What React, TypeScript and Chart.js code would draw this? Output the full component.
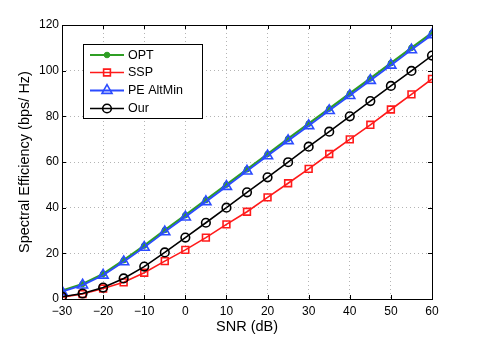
import React, { useEffect, useRef } from "react";
import { Chart, registerables } from "chart.js";

Chart.register(...registerables);

const snr = [-30, -25, -20, -15, -10, -5, 0, 5, 10, 15, 20, 25, 30, 35, 40, 45, 50, 55, 60];
const optValues = [3.6, 6.6, 11.0, 17.0, 23.4, 30.2, 36.7, 43.4, 50.1, 56.8, 63.5, 70.2, 76.8, 83.4, 90.0, 96.6, 103.3, 110.0, 116.5];
const sspValues = [0.8, 2.2, 4.6, 7.3, 11.5, 16.6, 21.5, 26.9, 32.7, 38.2, 44.5, 50.7, 57.0, 63.5, 69.9, 76.3, 83.0, 89.6, 96.4];
const peValues = [3.2, 6.1, 10.4, 16.3, 22.6, 29.4, 35.9, 42.6, 49.3, 56.0, 62.7, 69.3, 75.9, 82.5, 89.1, 95.7, 102.4, 109.1, 115.7];
const ourValues = [1.0, 2.4, 5.0, 9.0, 14.2, 20.4, 26.9, 33.4, 40.0, 46.7, 53.3, 59.9, 66.7, 73.3, 80.0, 86.7, 93.3, 99.9, 106.6];
const seriesNames = ["OPT", "SSP", "PE AltMin", "Our"];
const xTitle = "SNR (dB)";
const yTitle = "Spectral Efficiency (bps/ Hz)";

const FONT = "'Liberation Sans', Arial, Helvetica, sans-serif";
const GREEN = "#2f9e24";
const RED = "#ff1a1a";
const BLUE = "#2b4bff";
const BLACK = "#000000";

const toPts = (vals: number[]) => vals.map((v, i) => ({ x: snr[i], y: v }));

function drawMarker(ctx: CanvasRenderingContext2D, style: string, x: number, y: number, r: number) {
  ctx.beginPath();
  if (style === "circle") {
    ctx.arc(x, y, r, 0, Math.PI * 2);
  } else if (style === "rect") {
    const s = Math.SQRT1_2 * r;
    ctx.rect(x - s, y - s, 2 * s, 2 * s);
  } else if (style === "triangle") {
    ctx.moveTo(x, y - r);
    ctx.lineTo(x + r * Math.sin(Math.PI / 3), y + r * 0.5);
    ctx.lineTo(x - r * Math.sin(Math.PI / 3), y + r * 0.5);
    ctx.closePath();
  }
  ctx.fill();
  ctx.stroke();
}

const framePlugin = {
  id: "frame",
  afterDraw(chart: any) {
    const { ctx, chartArea } = chart;
    const { left, right, top, bottom } = chartArea;
    const xs = chart.scales.x;
    const ys = chart.scales.y;
    ctx.save();
    ctx.strokeStyle = "#000";
    ctx.lineWidth = 1;
    ctx.strokeRect(Math.round(left) + 0.5, Math.round(top) + 0.5, Math.round(right - left), Math.round(bottom - top));
    const tl = 4;
    ctx.beginPath();
    xs.ticks.forEach((t: any) => {
      const px = Math.round(xs.getPixelForValue(t.value)) + 0.5;
      ctx.moveTo(px, bottom);
      ctx.lineTo(px, bottom - tl);
      ctx.moveTo(px, top);
      ctx.lineTo(px, top + tl);
    });
    ys.ticks.forEach((t: any) => {
      const py = Math.round(ys.getPixelForValue(t.value)) + 0.5;
      ctx.moveTo(left, py);
      ctx.lineTo(left + tl, py);
      ctx.moveTo(right, py);
      ctx.lineTo(right - tl, py);
    });
    ctx.stroke();

    // legend
    const bx = 83.5, by = 44.5, bw = 119, bh = 74;
    ctx.fillStyle = "#fff";
    ctx.fillRect(bx, by, bw, bh);
    ctx.strokeStyle = "#000";
    ctx.strokeRect(bx, by, bw, bh);
    const rows = [55, 72.5, 90.5, 108.5];
    chart.data.datasets.forEach((ds: any, i: number) => {
      const y = rows[i];
      ctx.strokeStyle = ds.borderColor;
      ctx.lineWidth = ds.borderWidth;
      ctx.beginPath();
      ctx.moveTo(90, y);
      ctx.lineTo(124, y);
      ctx.stroke();
      ctx.lineWidth = ds.pointBorderWidth;
      ctx.fillStyle = ds.pointBackgroundColor;
      ctx.strokeStyle = ds.pointBorderColor;
      drawMarker(ctx, ds.pointStyle, 107, y, ds.pointRadius);
      ctx.fillStyle = "#000";
      ctx.font = `12.5px ${FONT}`;
      ctx.textBaseline = "middle";
      ctx.textAlign = "left";
      ctx.fillText(ds.label, 128, y + 0.5);
    });
    ctx.restore();
  },
};

export default function App() {
  const ref = useRef<HTMLCanvasElement | null>(null);
  useEffect(() => {
    if (!ref.current) return;
    const chart = new Chart(ref.current, {
      type: "line",
      data: {
        datasets: [
          {
            label: seriesNames[0],
            data: toPts(optValues),
            borderColor: GREEN,
            borderWidth: 2.2,
            pointStyle: "circle",
            pointRadius: 2.8,
            pointBackgroundColor: GREEN,
            pointBorderColor: GREEN,
            pointBorderWidth: 1,
            order: 4,
          },
          {
            label: seriesNames[1],
            data: toPts(sspValues),
            borderColor: RED,
            borderWidth: 1.6,
            pointStyle: "rect",
            pointRadius: 4.8,
            pointBackgroundColor: "rgba(0,0,0,0)",
            pointBorderColor: RED,
            pointBorderWidth: 1.6,
            order: 3,
          },
          {
            label: seriesNames[2],
            data: toPts(peValues),
            borderColor: BLUE,
            borderWidth: 1.8,
            pointStyle: "triangle",
            pointRadius: 5.8,
            pointBackgroundColor: "rgba(0,0,0,0)",
            pointBorderColor: BLUE,
            pointBorderWidth: 1.6,
            order: 2,
          },
          {
            label: seriesNames[3],
            data: toPts(ourValues),
            borderColor: BLACK,
            borderWidth: 1.6,
            pointStyle: "circle",
            pointRadius: 4.3,
            pointBackgroundColor: "rgba(0,0,0,0)",
            pointBorderColor: BLACK,
            pointBorderWidth: 1.6,
            order: 1,
          },
        ] as any,
      },
      options: {
        responsive: false,
        animation: false,
        devicePixelRatio: 1,
        layout: { padding: { top: 25, right: 46, left: 0, bottom: 0 } },
        plugins: { legend: { display: false }, tooltip: { enabled: false } },
        elements: { line: { tension: 0 } },
        scales: {
          x: {
            type: "linear",
            min: -30,
            max: 60,
            afterFit: (s: any) => {
              s.height = 38;
            },
            ticks: {
              stepSize: 10,
              color: "#000",
              padding: 5,
              maxRotation: 0,
              font: { family: FONT, size: 12 },
              callback: (v: any) => String(v).replace("-", "\u2212"),
            },
            grid: { color: "#b4b4b4", lineWidth: 1, drawTicks: false },
            border: { display: false, dash: [1, 3] },
            title: {
              display: true,
              text: xTitle,
              color: "#000",
              font: { family: FONT, size: 14.5 },
              padding: { top: 0, bottom: 1 },
            },
          },
          y: {
            type: "linear",
            min: 0,
            max: 120,
            afterFit: (s: any) => {
              s.width = 62;
            },
            ticks: {
              stepSize: 20,
              color: "#000",
              padding: 3,
              font: { family: FONT, size: 12 },
            },
            grid: { color: "#b4b4b4", lineWidth: 1, drawTicks: false },
            border: { display: false, dash: [1, 3] },
            title: {
              display: true,
              text: yTitle,
              color: "#000",
              font: { family: FONT, size: 14.5 },
              padding: { top: 16, bottom: 0 },
            },
          },
        },
      } as any,
      plugins: [framePlugin],
    });
    return () => chart.destroy();
  }, []);
  return (
    <div style={{ position: "absolute", left: 0, top: 0, width: 478, height: 337, background: "#fff" }}>
      <canvas ref={ref} width={478} height={337} style={{ display: "block", width: 478, height: 337 }} />
    </div>
  );
}
